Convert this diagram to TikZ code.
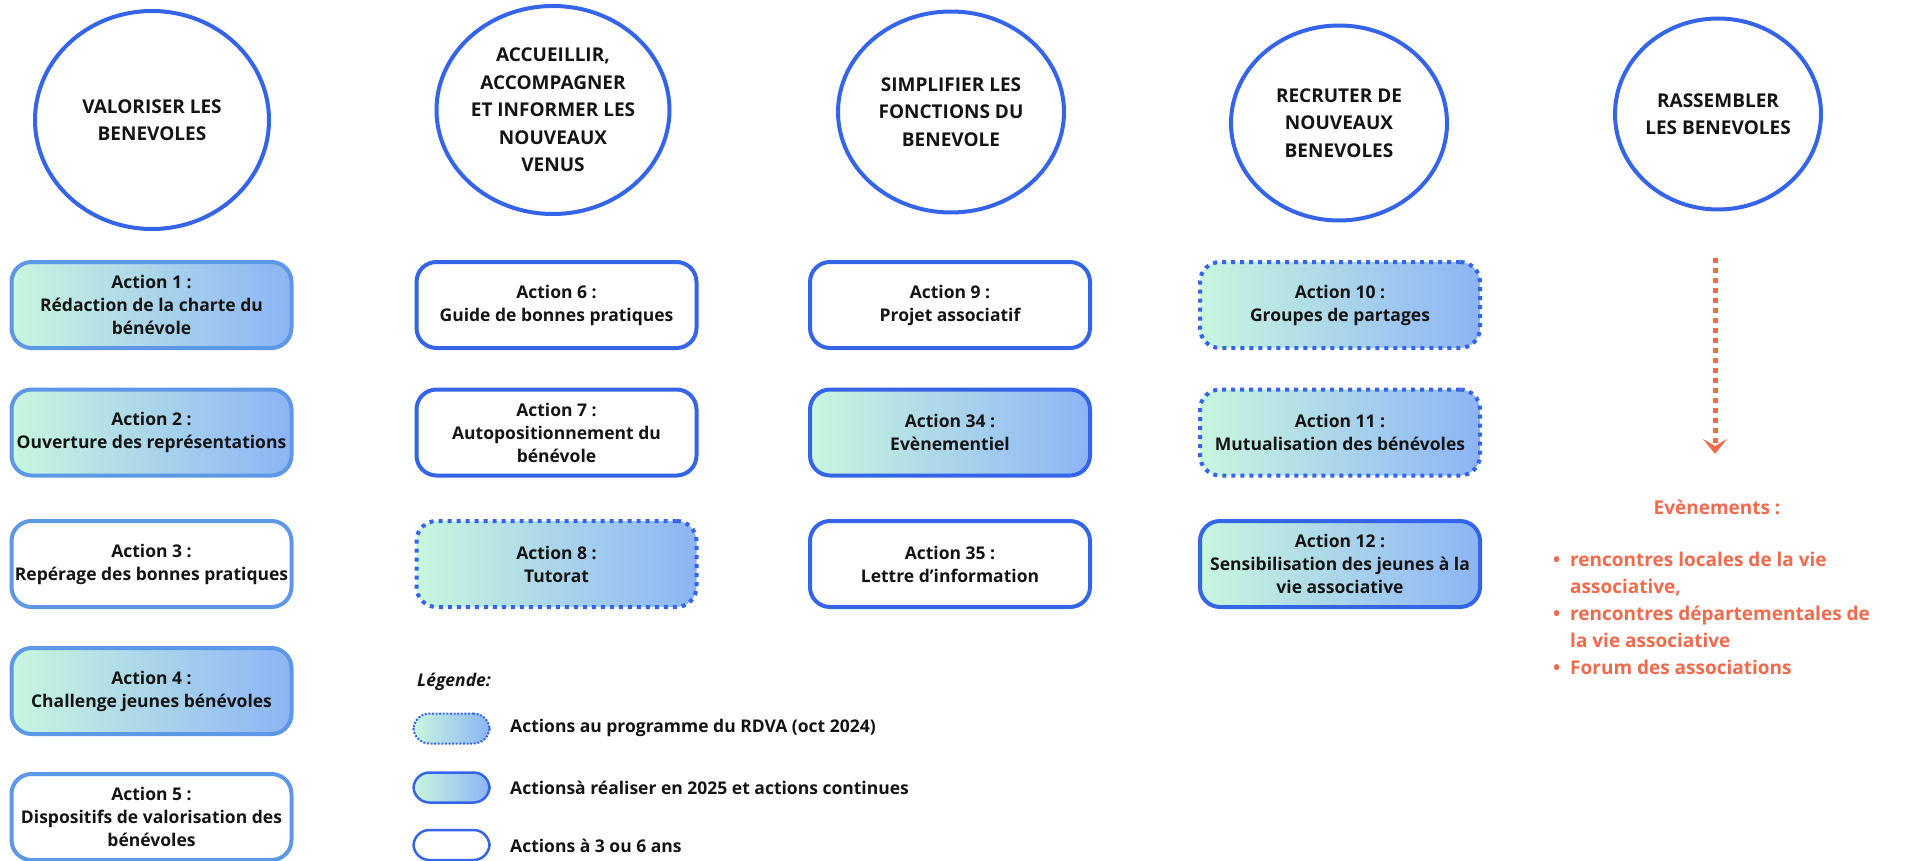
\documentclass[tikz,border=0pt]{standalone}
\usepackage{fontspec}
\setmainfont{Open Sans}
\usetikzlibrary{shapes.geometric,arrows.meta}
\definecolor{cblue}{RGB}{52,100,232}
\definecolor{clight}{RGB}{92,152,230}
\definecolor{gL}{RGB}{200,246,222}
\definecolor{gR}{RGB}{140,180,246}
\definecolor{corange}{RGB}{242,106,76}
\definecolor{ctext}{RGB}{20,20,20}
\tikzset{
  goal/.style={ellipse, draw=cblue, line width=4pt, inner sep=0pt},
  goaltext/.style={align=center, font=\fontsize{19}{27.5}\selectfont\bfseries, text=ctext, inner sep=0pt},
  actbox/.style={rectangle, rounded corners=20pt, line width=4pt, minimum width=280pt, minimum height=86pt,
    align=center, font=\fontsize{17.5}{23}\selectfont\bfseries, text=ctext, inner sep=0pt},
  grad/.style={left color=gL, right color=gR},
  lightb/.style={actbox, draw=clight},
  solidb/.style={actbox, draw=cblue},
  dotb/.style={actbox, draw=cblue, dash pattern=on 4pt off 5pt},
  pill/.style={rectangle, rounded corners=16pt, minimum width=76pt, minimum height=30pt, line width=2.5pt, inner sep=0pt, draw=cblue},
  legtext/.style={anchor=west, font=\fontsize{17.5}{23}\selectfont\bfseries, text=ctext, inner sep=0pt},
  orangetext/.style={text=corange, font=\fontsize{19}{27}\selectfont\bfseries, inner sep=0pt}
}
\begin{document}
\begin{tikzpicture}[x=1pt,y=-1pt]
\path[use as bounding box] (0,0) rectangle (1905,861);

% goals
\node[goal, minimum width=234pt, minimum height=218pt] (g1) at (152,120) {};
\node[goaltext] (g1t) at (g1.center) {VALORISER LES\\BENEVOLES};
\node[goal, minimum width=233pt, minimum height=208pt] (g2) at (553,110) {};
\node[goaltext] (g2t) at (g2.center) {ACCUEILLIR,\\ACCOMPAGNER\\ET INFORMER LES\\NOUVEAUX\\VENUS};
\node[goal, minimum width=226pt, minimum height=201pt] (g3) at (951,112) {};
\node[goaltext] (g3t) at (g3.center) {SIMPLIFIER LES\\FONCTIONS DU\\BENEVOLE};
\node[goal, minimum width=216pt, minimum height=195pt] (g4) at (1339,123) {};
\node[goaltext] (g4t) at (g4.center) {RECRUTER DE\\NOUVEAUX\\BENEVOLES};
\node[goal, minimum width=206pt, minimum height=191pt] (g5) at (1718,114) {};
\node[goaltext] (g5t) at (g5.center) {RASSEMBLER\\LES BENEVOLES};

% column 1
\node[lightb, grad] (a1) at (151.5,305) {Action 1 :\\Rédaction de la charte du\\bénévole};
\node[lightb, grad] (a2) at (151.5,432.5) {Action 2 :\\Ouverture des représentations};
\node[lightb, fill=white] (a3) at (151.5,564) {Action 3 :\\Repérage des bonnes pratiques};
\node[lightb, grad] (a4) at (151.5,691) {Action 4 :\\Challenge jeunes bénévoles};
\node[lightb, fill=white] (a5) at (151.5,817) {Action 5 :\\Dispositifs de valorisation des\\bénévoles};

% column 2
\node[solidb, fill=white] (a6) at (556.5,305) {Action 6 :\\Guide de bonnes pratiques};
\node[solidb, fill=white] (a7) at (556.5,432.5) {Action 7 :\\Autopositionnement du\\bénévole};
\node[dotb, grad] (a8) at (556.5,564) {Action 8 :\\Tutorat};

% column 3
\node[solidb, fill=white] (a9) at (950,305) {Action 9 :\\Projet associatif};
\node[solidb, grad] (a34) at (950,432.5) {Action 34 :\\Evènementiel};
\node[solidb, fill=white] (a35) at (950,564) {Action 35 :\\Lettre d’information};

% column 4
\node[dotb, grad] (a10) at (1340,305) {Action 10 :\\Groupes de partages};
\node[dotb, grad] (a11) at (1340,432.5) {Action 11 :\\Mutualisation des bénévoles};
\node[solidb, grad] (a12) at (1340,564) {Action 12 :\\Sensibilisation des jeunes à la\\vie associative};

% legend
\node[anchor=west, font=\fontsize{17.5}{23}\selectfont\bfseries\itshape, text=ctext, inner sep=0pt] (leg) at (417,682) {Légende:};
\node[pill, grad, line width=2pt, dash pattern=on 2pt off 1.6pt] (p1) at (451.5,728.5) {};
\node[pill, grad] (p2) at (451.5,787.5) {};
\node[pill, fill=white] (p3) at (451.5,845) {};
\node[legtext] (l1) at (510,727.5) {Actions au programme du RDVA (oct 2024)};
\node[legtext] (l2) at (510,788) {Actionsà réaliser en 2025 et actions continues};
\node[legtext] (l3) at (510,846) {Actions à 3 ou 6 ans};

% events
\coordinate (aS) at (1715,258);
\coordinate (aE) at (1715,454);
\draw[corange, line width=5pt, dash pattern=on 5pt off 5pt,
  -{Stealth[length=15pt, width=24pt, inset=7pt, line width=0pt]}] (aS) -- (aE);
\node[orangetext] (evt) at (1717,507) {Evènements :};
\node[orangetext, anchor=north west] (evl) at (1553,547)
  {\begin{tabular}{@{}p{17pt}@{}l@{}}
   • & rencontres locales de la vie\\
     & associative,\\
   • & rencontres départementales de\\
     & la vie associative\\
   • & Forum des associations
  \end{tabular}};
\end{tikzpicture}
\end{document}
